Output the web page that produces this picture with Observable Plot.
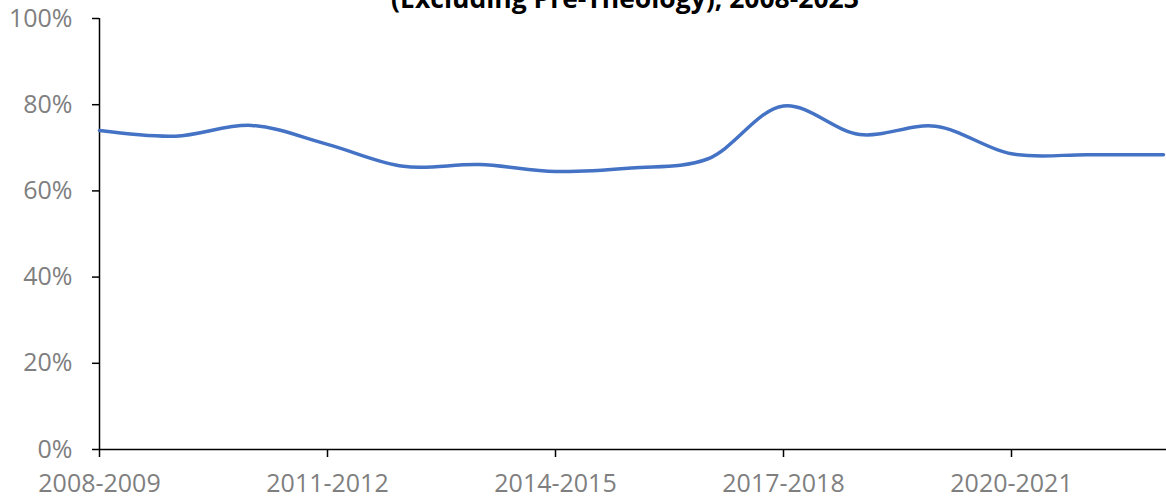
<!DOCTYPE html>
<html>
<head>
<meta charset="utf-8">
<script src="https://cdn.jsdelivr.net/npm/d3@7"></script>
<script src="https://cdn.jsdelivr.net/npm/@observablehq/plot@0.6"></script>
<style>
  html, body { margin: 0; padding: 0; background: #fff; overflow: hidden; }
  #chart { width: 1166px; height: 498px; overflow: hidden; }
  #chart svg { display: block; max-width: none !important; width: 1172px !important; height: 498px !important; }
</style>
</head>
<body>
<div id="chart"></div>
<script>
const years = ["2008-2009","2009-2010","2010-2011","2011-2012","2012-2013","2013-2014","2014-2015","2015-2016","2016-2017","2017-2018","2018-2019","2019-2020","2020-2021","2021-2022","2022-2023"];
const rates = [0.740, 0.727, 0.752, 0.708, 0.657, 0.661, 0.645, 0.653, 0.674, 0.797, 0.731, 0.750, 0.686, 0.684, 0.684];
const xTickLabels = ["2008-2009","2011-2012","2014-2015","2017-2018","2020-2021"];
const yTicks = [0, 0.2, 0.4, 0.6, 0.8, 1.0];
const titleLine = "(Excluding Pre-Theology), 2008-2023";

const data = years.map((y, i) => ({year: y, rate: rates[i]}));
const font = "'Open Sans', 'Noto Sans', sans-serif";
const gray = "#7f7f7f";

const chart = Plot.plot({
  width: 1172,
  height: 498,
  marginLeft: 99,
  marginRight: 0,
  marginTop: 18,
  marginBottom: 49,
  style: {fontFamily: font, fontSize: "25px", background: "#fff", overflow: "hidden"},
  x: {type: "point", domain: years, padding: 0, align: 0},
  y: {domain: [0, 1]},
  marks: [
    Plot.axisY({
      ticks: yTicks,
      tickFormat: d => Math.round(d * 100) + "%",
      tickSize: 7,
      tickPadding: 20,
      stroke: "#000",
      strokeWidth: 1.5,
      color: gray,
      fontSize: 25,
      label: null
    }),
    Plot.axisX({
      ticks: xTickLabels,
      tickSize: 8,
      tickPadding: 17,
      stroke: "#000",
      strokeWidth: 1.5,
      color: gray,
      fontSize: 25,
      label: null
    }),
    Plot.ruleX([years[0]], {y1: 0, y2: 1, stroke: "#000", strokeWidth: 1.5}),
    Plot.ruleY([0], {stroke: "#000", strokeWidth: 1.5}),
    Plot.line(data, {x: "year", y: "rate", stroke: "#4472C4", strokeWidth: 3.5, curve: "catmull-rom"}),
    Plot.text([titleLine], {
      frameAnchor: "top",
      dy: -11,
      dx: -11,
      lineAnchor: "bottom",
      fontWeight: "bold",
      fontSize: 26.5,
      fill: "#000",
      text: d => d
    })
  ]
});
document.getElementById("chart").appendChild(chart);
</script>
</body>
</html>
